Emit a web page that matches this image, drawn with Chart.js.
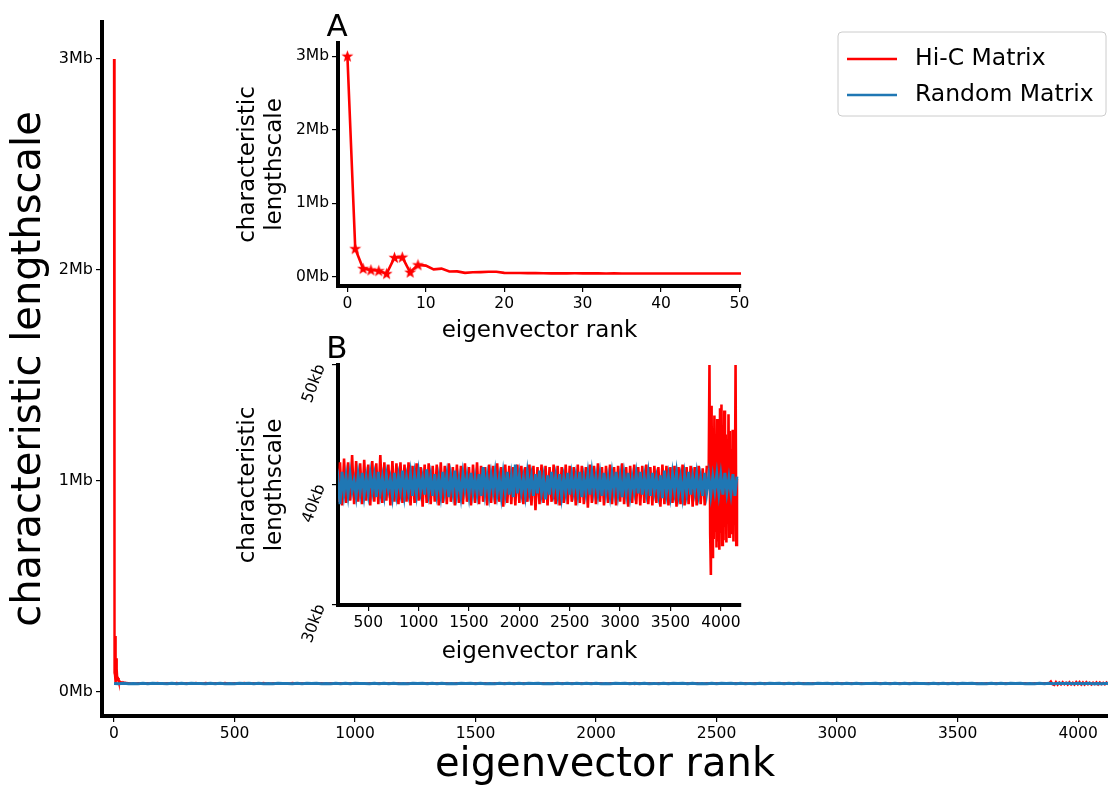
<!DOCTYPE html>
<html>
<head>
<meta charset="utf-8">
<script src="https://cdn.jsdelivr.net/npm/chart.js@4.4.0/dist/chart.umd.min.js"></script>
<style>
  html, body { margin: 0; padding: 0; background: #fff; }
  #wrap { position: relative; width: 1108px; height: 787px; overflow: hidden; }
  #wrap canvas { position: absolute; }
</style>
</head>
<body>
<div id="wrap">
  <canvas id="main" width="1108" height="787" style="left:0;top:0"></canvas>
  <canvas id="insetA" width="540" height="345" style="left:220px;top:0"></canvas>
  <canvas id="insetB" width="540" height="355" style="left:220px;top:325px"></canvas>
</div>
<script>
// characteristic lengthscale (kb) of the first eigenvectors, rank 0..50
const hicHeadKb = [3000, 380, 110, 90, 80, 40, 260, 265, 60, 160, 150, 100, 110, 70, 72, 52, 60, 62, 66, 66,
  52, 50, 50, 48, 50, 47, 45, 45, 45, 46, 45, 45, 45, 44, 45, 44, 43, 44, 44, 43,
  43, 44, 43, 43, 43, 43, 44, 43, 43, 43, 43];

// Hi-C, rank 60..3860, read every 20 ranks (kb)
const bodyStartRank = 60;
const bodyStep = 20;
const hicBodyKb = [
  41.6, 38.5, 41.9, 38.7, 41.8, 38.4, 42.1, 38.6, 41.9, 38.3, 42.2, 38.5, 41.9, 38.7, 42.5, 38.4, 42.0, 38.6, 41.8, 38.4,
  42.1, 38.7, 41.7, 38.3, 42.0, 38.6, 41.8, 38.4, 42.5, 38.5, 41.9, 38.7, 41.7, 38.3, 42.0, 38.6, 41.8, 38.4, 41.9, 38.5,
  41.7, 38.6, 41.9, 38.3, 41.6, 38.5, 41.8, 38.7, 41.5, 38.2, 41.7, 38.5, 41.8, 38.4, 41.6, 38.6, 41.7, 38.3, 41.9, 38.5,
  41.6, 38.4, 41.8, 38.6, 41.5, 38.3, 41.7, 38.5, 41.6, 38.4, 41.8, 38.6, 41.5, 38.3, 41.7, 38.5, 41.9, 38.4, 41.6, 38.6,
  41.5, 38.3, 41.7, 38.5, 41.6, 38.4, 41.8, 38.6, 41.5, 38.2, 41.7, 38.5, 41.6, 38.4, 41.5, 38.3, 41.7, 38.5, 41.6, 38.4,
  41.5, 38.6, 41.7, 38.3, 41.6, 37.9, 41.5, 38.4, 41.7, 38.5, 41.6, 38.3, 41.5, 38.6, 41.7, 38.4, 41.6, 38.3, 41.5, 38.5,
  41.7, 38.4, 41.6, 38.6, 41.5, 38.3, 41.7, 38.5, 41.6, 38.4, 41.5, 38.1, 41.7, 38.5, 41.6, 38.4, 41.8, 38.6, 41.5, 38.3,
  41.6, 38.5, 41.7, 38.4, 41.5, 38.3, 41.6, 38.6, 41.8, 38.4, 41.5, 38.2, 41.6, 38.5, 41.7, 38.4, 41.5, 38.3, 41.6, 38.5,
  41.7, 38.4, 41.5, 38.3, 41.6, 38.5, 41.5, 38.2, 41.7, 38.4, 41.6, 38.3, 41.5, 38.5, 41.6, 38.2, 41.5, 38.4, 41.7, 38.3,
  41.5, 38.4, 41.6, 38.2, 41.5, 38.3, 41.6, 38.4, 41.4, 38.3, 41.5
];

// Hi-C, last eigenvectors rank 3880..4160, every 7 ranks (kb)
const tailStartRank = 3880;
const tailStep = 7;
const hicTailKb = [
  41.5, 50.0, 36.0, 32.5, 46.6, 34.0, 44.5, 35.5, 45.8, 36.2, 44.0, 34.8, 45.5, 35.3, 43.5, 34.6, 46.4, 36.0, 46.7, 35.0,
  45.0, 35.4, 46.2, 36.5, 44.2, 35.2, 43.8, 36.8, 45.9, 35.7, 44.5, 37.0, 43.0, 36.0, 44.6, 35.3, 43.8, 38.0, 50.0, 35.0,
  40.5
];

// random matrix, rank 0..4160, every 20 ranks (kb)
const randomStep = 20;
const randomKb = [
  40.2, 39.3, 40.9, 39.1, 40.6, 39.4, 41.0, 39.2, 40.8, 39.6, 40.5, 38.4, 41.1, 39.3, 40.7, 39.2, 40.9, 39.5, 40.4, 39.1,
  40.8, 39.4, 41.0, 39.2, 40.6, 39.3, 40.9, 39.5, 40.7, 39.0, 41.1, 39.4, 40.6, 39.2, 40.8, 39.6, 40.5, 39.1, 41.0, 39.3,
  40.7, 39.5, 41.2, 39.2, 40.6, 39.4, 40.9, 39.1, 40.8, 39.3, 41.0, 39.5, 40.6, 39.2, 41.3, 39.4, 40.7, 39.1, 40.9, 39.3,
  40.6, 39.2, 41.1, 39.5, 40.8, 39.0, 40.7, 39.4, 41.2, 39.3, 40.5, 39.1, 40.9, 39.6, 40.7, 39.2, 41.0, 39.4, 40.6, 39.3,
  40.9, 39.1, 41.5, 39.4, 40.7, 39.2, 40.8, 39.5, 41.0, 39.3, 40.6, 39.1, 40.9, 39.4, 41.1, 39.2, 40.7, 39.0, 41.7, 39.3,
  40.8, 39.4, 40.6, 39.2, 41.0, 39.5, 40.7, 39.1, 40.9, 39.3, 41.2, 39.4, 40.6, 38.8, 40.8, 39.2, 41.1, 39.5, 40.7, 39.3,
  40.9, 39.1, 40.6, 39.4, 41.0, 39.2, 40.8, 39.5, 40.7, 39.3, 41.1, 39.0, 40.6, 39.4, 40.9, 39.2, 41.0, 39.5, 40.7, 39.3,
  40.8, 39.1, 41.0, 39.4, 40.6, 39.2, 40.9, 39.5, 41.1, 39.3, 40.7, 39.0, 40.8, 39.4, 41.0, 39.2, 40.6, 39.5, 40.9, 39.3,
  41.1, 39.2, 40.7, 39.4, 40.9, 39.1, 41.0, 39.5, 40.6, 39.3, 40.8, 38.9, 41.2, 39.4, 40.7, 39.2, 40.9, 39.5, 41.0, 39.3,
  40.6, 39.1, 40.8, 39.4, 41.1, 39.2, 40.7, 39.5, 40.9, 39.3, 40.6, 39.1, 41.0, 39.4, 40.8, 39.2, 40.7, 39.5, 40.9, 39.3,
  40.8, 39.2, 41.0, 39.4, 40.6, 39.3, 40.9, 39.1, 40.7
];

// tick values
const mainXTicks = [0, 500, 1000, 1500, 2000, 2500, 3000, 3500, 4000];
const mainYTicksMb = [0, 1, 2, 3];
const insetAXTicks = [0, 10, 20, 30, 40, 50];
const insetAYTicksMb = [0, 1, 2, 3];
const insetBXTicks = [500, 1000, 1500, 2000, 2500, 3000, 3500, 4000];
const insetBYTicksKb = [30, 40, 50];

const RED = '#ff0000';
const BLUE = '#1f77b4';
const FONT = 'DejaVu Sans';

Chart.defaults.font.family = FONT;
Chart.defaults.color = '#000';

function hicPoints() {
    const pts = [];
    hicHeadKb.forEach((v, i) => pts.push({ x: i, y: v }));
    hicBodyKb.forEach((v, i) => pts.push({ x: bodyStartRank + i * bodyStep, y: v }));
    hicTailKb.forEach((v, i) => pts.push({ x: tailStartRank + i * tailStep, y: v }));
    return pts;
}
function randomPoints() {
    return randomKb.map((v, i) => ({ x: i * randomStep, y: v }));
}

// filled five point star, like matplotlib's '*' marker
const starImg = document.createElement('canvas');
starImg.width = 13;
starImg.height = 13;
(function () {
    const c = starImg.getContext('2d');
    c.beginPath();
    for (let k = 0; k < 10; k++) {
        const r = k % 2 === 0 ? 6.3 : 2.6;
        const a = -Math.PI / 2 + k * Math.PI / 5;
        const px = 6.5 + r * Math.cos(a), py = 6.8 + r * Math.sin(a);
        if (k === 0) c.moveTo(px, py); else c.lineTo(px, py);
    }
    c.closePath();
    c.fillStyle = RED;
    c.fill();
})();

const tickGrid = { display: true, drawOnChartArea: false, drawTicks: true, tickLength: 6, color: '#000', lineWidth: 1.2 };
const spine = { display: true, width: 4, color: '#000' };

function setTicks(list) {
    return scale => { scale.ticks = list.map(v => ({ value: v })); };
}

// legend with a box, drawn in the main chart
const boxLegend = {
    id: 'boxLegend',
    afterDraw(chart, args, o) {
        const ctx = chart.ctx;
        ctx.save();
        ctx.beginPath();
        ctx.roundRect(o.x, o.y, o.w, o.h, 4);
        ctx.fillStyle = 'rgba(255,255,255,0.8)';
        ctx.fill();
        ctx.strokeStyle = '#cccccc';
        ctx.lineWidth = 1;
        ctx.stroke();
        chart.data.datasets.forEach((ds, i) => {
            const y = o.y + o.first + i * o.gap;
            ctx.beginPath();
            ctx.moveTo(o.x + 9, y);
            ctx.lineTo(o.x + 59, y);
            ctx.strokeStyle = ds.borderColor;
            ctx.lineWidth = 2.5;
            ctx.stroke();
            ctx.fillStyle = '#000';
            ctx.font = '23.5px "' + FONT + '"';
            ctx.textBaseline = 'middle';
            ctx.fillText(ds.label, o.x + 77, y);
        });
        ctx.restore();
    }
};

// "A" / "B" above the inset axes
const panelLabel = {
    id: 'panelLabel',
    afterDraw(chart, args, o) {
        const { ctx, chartArea } = chart;
        ctx.save();
        ctx.font = '31px "' + FONT + '"';
        ctx.fillStyle = '#000';
        ctx.textAlign = 'center';
        ctx.textBaseline = 'alphabetic';
        ctx.fillText(o.text, chartArea.left - 1, chartArea.top - 7);
        ctx.restore();
    }
};

// main figure
new Chart(document.getElementById('main'), {
    type: 'line',
    data: {
        datasets: [
            { label: 'Hi-C Matrix', data: hicPoints(), borderColor: RED, borderWidth: 2.4, pointRadius: 0, order: 2 },
            { label: 'Random Matrix', data: randomPoints(), borderColor: BLUE, borderWidth: 3, pointRadius: 0, order: 1 }
        ]
    },
    options: {
        responsive: false,
        animation: false,
        devicePixelRatio: 1,
        layout: { padding: { top: 22, right: 0, left: 0, bottom: 0 } },
        plugins: {
            legend: { display: false },
            tooltip: { enabled: false },
            boxLegend: { x: 838, y: 32, w: 268, h: 84, first: 27, gap: 36 }
        },
        scales: {
            x: {
                type: 'linear', min: -50, max: 4124,
                afterBuildTicks: setTicks(mainXTicks),
                afterFit: s => { s.height = 71; },
                ticks: { font: { size: 15.5 }, padding: 3, maxRotation: 0, autoSkip: false, callback: v => String(v) },
                grid: tickGrid, border: spine,
                title: { display: true, text: 'eigenvector rank', font: { size: 40 }, padding: { top: 0, bottom: -3 } }
            },
            y: {
                type: 'linear', min: -114, max: 3175,
                afterBuildTicks: setTicks(mainYTicksMb.map(v => v * 1000)),
                afterFit: s => { s.width = 102; },
                ticks: { font: { size: 16 }, padding: 3, autoSkip: false, callback: v => (v / 1000) + 'Mb' },
                grid: tickGrid, border: spine,
                title: { display: true, text: 'characteristic lengthscale', font: { size: 40 }, padding: { top: 6, bottom: 0 } }
            }
        }
    },
    plugins: [boxLegend]
});

// inset A: first 50 eigenvectors
new Chart(document.getElementById('insetA'), {
    type: 'line',
    data: {
        datasets: [{
            label: 'Hi-C Matrix', data: hicPoints(), borderColor: RED, borderWidth: 2.6,
            pointStyle: starImg,
            pointRadius: ctx => ctx.dataIndex < 10 ? 5 : 0
        }]
    },
    options: {
        responsive: false,
        animation: false,
        devicePixelRatio: 1,
        layout: { padding: { top: 43, right: 19, left: 0, bottom: 0 } },
        plugins: { legend: { display: false }, tooltip: { enabled: false }, panelLabel: { text: 'A' } },
        scales: {
            x: {
                type: 'linear', min: -1.2, max: 50.2,
                afterBuildTicks: setTicks(insetAXTicks),
                afterFit: s => { s.height = 59; },
                ticks: { font: { size: 15.5 }, padding: 3, maxRotation: 0, autoSkip: false, callback: v => String(v) },
                grid: tickGrid, border: spine,
                title: { display: true, text: 'eigenvector rank', font: { size: 23 }, padding: { top: 0, bottom: 0 } }
            },
            y: {
                type: 'linear', min: -127, max: 3180,
                afterBuildTicks: setTicks(insetAYTicksMb.map(v => v * 1000)),
                afterFit: s => { s.width = 118; },
                ticks: { font: { size: 15.5 }, padding: 3, autoSkip: false, callback: v => (v / 1000) + 'Mb' },
                grid: tickGrid, border: spine,
                title: { display: true, text: ['characteristic', 'lengthscale'], font: { size: 23 }, padding: { top: 14, bottom: 0 } }
            }
        }
    },
    plugins: [panelLabel]
});

// inset B: zoom on the 40kb band
new Chart(document.getElementById('insetB'), {
    type: 'line',
    data: {
        datasets: [
            { label: 'Hi-C Matrix', data: hicPoints(), borderColor: RED, borderWidth: 2.6, pointRadius: 0, order: 2 },
            { label: 'Random Matrix', data: randomPoints(), borderColor: BLUE, borderWidth: 2.9, pointRadius: 0, order: 1 }
        ]
    },
    options: {
        responsive: false,
        animation: false,
        devicePixelRatio: 1,
        layout: { padding: { top: 40, right: 19, left: 0, bottom: 0 } },
        plugins: { legend: { display: false }, tooltip: { enabled: false }, panelLabel: { text: 'B' } },
        scales: {
            x: {
                type: 'linear', min: 200, max: 4200,
                afterBuildTicks: setTicks(insetBXTicks),
                afterFit: s => { s.height = 75; },
                ticks: { font: { size: 15.5 }, padding: 3, maxRotation: 0, autoSkip: false, callback: v => String(v) },
                grid: tickGrid, border: spine,
                title: { display: true, text: 'eigenvector rank', font: { size: 23 }, padding: { top: 0, bottom: 14 } }
            },
            y: {
                type: 'linear', min: 30, max: 50,
                afterBuildTicks: setTicks(insetBYTicksKb),
                afterFit: s => { s.width = 118; },
                ticks: { font: { size: 16 }, padding: 11, autoSkip: false, minRotation: 70, maxRotation: 70, callback: v => v + 'kb' },
                grid: tickGrid, border: spine,
                title: { display: true, text: ['characteristic', 'lengthscale'], font: { size: 23 }, padding: { top: 14, bottom: 0 } }
            }
        }
    },
    plugins: [panelLabel]
});
</script>
</body>
</html>
